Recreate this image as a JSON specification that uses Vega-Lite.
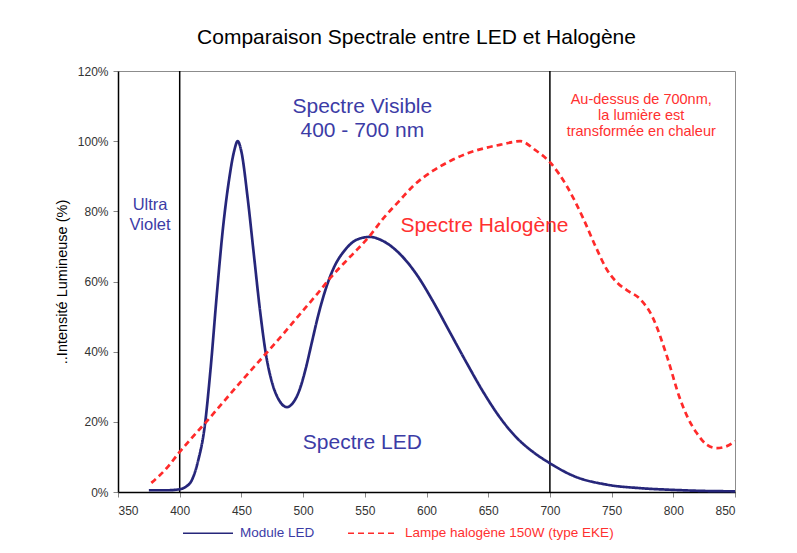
{
  "$schema": "https://vega.github.io/schema/vega-lite/v6.json",
  "width": 617,
  "height": 421,
  "autosize": "none",
  "padding": {"left": 118, "top": 71, "right": 62, "bottom": 61},
  "background": "white",
  "config": {
    "font": "Liberation Sans",
    "view": {"stroke": "#8c8c8c", "strokeWidth": 1}
  },
  "title": {
    "text": "Comparaison Spectrale entre LED et Halogène",
    "fontSize": 21,
    "fontWeight": "normal",
    "font": "Liberation Sans",
    "color": "#000000",
    "anchor": "middle",
    "dx": -10,
    "offset": 17
  },
  "datasets": {
    "spectra": [
      {"series": "Module LED", "nm": 375, "pct": 0.5},
      {"series": "Module LED", "nm": 390, "pct": 0.5},
      {"series": "Module LED", "nm": 400, "pct": 0.8},
      {"series": "Module LED", "nm": 405, "pct": 1.5},
      {"series": "Module LED", "nm": 410, "pct": 3.5},
      {"series": "Module LED", "nm": 415, "pct": 9},
      {"series": "Module LED", "nm": 420, "pct": 18},
      {"series": "Module LED", "nm": 425, "pct": 35},
      {"series": "Module LED", "nm": 430, "pct": 56},
      {"series": "Module LED", "nm": 435, "pct": 75},
      {"series": "Module LED", "nm": 440, "pct": 89},
      {"series": "Module LED", "nm": 444, "pct": 97},
      {"series": "Module LED", "nm": 447, "pct": 100},
      {"series": "Module LED", "nm": 450, "pct": 97},
      {"series": "Module LED", "nm": 455, "pct": 84},
      {"series": "Module LED", "nm": 460, "pct": 68},
      {"series": "Module LED", "nm": 465, "pct": 52},
      {"series": "Module LED", "nm": 470, "pct": 39},
      {"series": "Module LED", "nm": 475, "pct": 31},
      {"series": "Module LED", "nm": 480, "pct": 26.5},
      {"series": "Module LED", "nm": 487, "pct": 24.2},
      {"series": "Module LED", "nm": 492, "pct": 25.5},
      {"series": "Module LED", "nm": 497, "pct": 29},
      {"series": "Module LED", "nm": 502, "pct": 35},
      {"series": "Module LED", "nm": 507, "pct": 42.5},
      {"series": "Module LED", "nm": 512, "pct": 50},
      {"series": "Module LED", "nm": 518, "pct": 57.5},
      {"series": "Module LED", "nm": 525, "pct": 64},
      {"series": "Module LED", "nm": 534, "pct": 69},
      {"series": "Module LED", "nm": 544, "pct": 72},
      {"series": "Module LED", "nm": 554, "pct": 72.7},
      {"series": "Module LED", "nm": 565, "pct": 71.5},
      {"series": "Module LED", "nm": 578, "pct": 68},
      {"series": "Module LED", "nm": 592, "pct": 62},
      {"series": "Module LED", "nm": 605, "pct": 54.5},
      {"series": "Module LED", "nm": 619, "pct": 45.5},
      {"series": "Module LED", "nm": 633, "pct": 36.5},
      {"series": "Module LED", "nm": 646, "pct": 28.5},
      {"series": "Module LED", "nm": 660, "pct": 21},
      {"series": "Module LED", "nm": 673, "pct": 15.5},
      {"series": "Module LED", "nm": 686, "pct": 11.5},
      {"series": "Module LED", "nm": 700, "pct": 8.2},
      {"series": "Module LED", "nm": 719, "pct": 4.6},
      {"series": "Module LED", "nm": 746, "pct": 2.1},
      {"series": "Module LED", "nm": 773, "pct": 1.1},
      {"series": "Module LED", "nm": 800, "pct": 0.6},
      {"series": "Module LED", "nm": 825, "pct": 0.3},
      {"series": "Module LED", "nm": 850, "pct": 0.2},
      {"series": "Lampe halogène 150W (type EKE)", "nm": 377, "pct": 2.6},
      {"series": "Lampe halogène 150W (type EKE)", "nm": 390, "pct": 7},
      {"series": "Lampe halogène 150W (type EKE)", "nm": 399, "pct": 11},
      {"series": "Lampe halogène 150W (type EKE)", "nm": 410, "pct": 15.5},
      {"series": "Lampe halogène 150W (type EKE)", "nm": 421, "pct": 19.8},
      {"series": "Lampe halogène 150W (type EKE)", "nm": 435, "pct": 25.5},
      {"series": "Lampe halogène 150W (type EKE)", "nm": 450, "pct": 31.6},
      {"series": "Lampe halogène 150W (type EKE)", "nm": 470, "pct": 39.5},
      {"series": "Lampe halogène 150W (type EKE)", "nm": 485, "pct": 45.5},
      {"series": "Lampe halogène 150W (type EKE)", "nm": 497, "pct": 50.5},
      {"series": "Lampe halogène 150W (type EKE)", "nm": 512, "pct": 56.7},
      {"series": "Lampe halogène 150W (type EKE)", "nm": 522, "pct": 61},
      {"series": "Lampe halogène 150W (type EKE)", "nm": 538, "pct": 67},
      {"series": "Lampe halogène 150W (type EKE)", "nm": 554, "pct": 73},
      {"series": "Lampe halogène 150W (type EKE)", "nm": 565, "pct": 78},
      {"series": "Lampe halogène 150W (type EKE)", "nm": 578, "pct": 83},
      {"series": "Lampe halogène 150W (type EKE)", "nm": 590, "pct": 87.5},
      {"series": "Lampe halogène 150W (type EKE)", "nm": 605, "pct": 91.5},
      {"series": "Lampe halogène 150W (type EKE)", "nm": 620, "pct": 94.5},
      {"series": "Lampe halogène 150W (type EKE)", "nm": 633, "pct": 96.5},
      {"series": "Lampe halogène 150W (type EKE)", "nm": 647, "pct": 98},
      {"series": "Lampe halogène 150W (type EKE)", "nm": 660, "pct": 99},
      {"series": "Lampe halogène 150W (type EKE)", "nm": 676, "pct": 100},
      {"series": "Lampe halogène 150W (type EKE)", "nm": 688, "pct": 97.5},
      {"series": "Lampe halogène 150W (type EKE)", "nm": 700, "pct": 94},
      {"series": "Lampe halogène 150W (type EKE)", "nm": 714, "pct": 87},
      {"series": "Lampe halogène 150W (type EKE)", "nm": 727, "pct": 78},
      {"series": "Lampe halogène 150W (type EKE)", "nm": 737, "pct": 70},
      {"series": "Lampe halogène 150W (type EKE)", "nm": 746, "pct": 63.5},
      {"series": "Lampe halogène 150W (type EKE)", "nm": 755, "pct": 59.5},
      {"series": "Lampe halogène 150W (type EKE)", "nm": 762, "pct": 57.6},
      {"series": "Lampe halogène 150W (type EKE)", "nm": 773, "pct": 55},
      {"series": "Lampe halogène 150W (type EKE)", "nm": 783, "pct": 50},
      {"series": "Lampe halogène 150W (type EKE)", "nm": 795, "pct": 38.5},
      {"series": "Lampe halogène 150W (type EKE)", "nm": 805, "pct": 27},
      {"series": "Lampe halogène 150W (type EKE)", "nm": 812, "pct": 21},
      {"series": "Lampe halogène 150W (type EKE)", "nm": 819, "pct": 16.8},
      {"series": "Lampe halogène 150W (type EKE)", "nm": 827, "pct": 13.5},
      {"series": "Lampe halogène 150W (type EKE)", "nm": 835, "pct": 12.5},
      {"series": "Lampe halogène 150W (type EKE)", "nm": 843, "pct": 13},
      {"series": "Lampe halogène 150W (type EKE)", "nm": 850, "pct": 14.5}
    ],
    "bounds": [{"nm": 400}, {"nm": 700}],
    "blueBig": [
      {"label": "Spectre Visible", "nm": 548, "pct": 109.7},
      {"label": "400 - 700 nm", "nm": 548, "pct": 102.9},
      {"label": "Spectre LED", "nm": 548, "pct": 14}
    ],
    "uv": [
      {"label": "Ultra", "nm": 376, "pct": 81.8},
      {"label": "Violet", "nm": 376, "pct": 76.1}
    ],
    "redBig": [
      {"label": "Spectre Halogène", "nm": 647, "pct": 75.8}
    ],
    "redSmall": [
      {"label": "Au-dessus de 700nm,", "nm": 774, "pct": 111.7},
      {"label": "la lumière est", "nm": 774, "pct": 107.2},
      {"label": "transformée en chaleur", "nm": 774, "pct": 102.6}
    ]
  },
  "encoding": {
    "x": {
      "field": "nm",
      "type": "quantitative",
      "scale": {"domain": [350, 850], "nice": false, "zero": false},
      "axis": {
        "title": null,
        "values": [350, 400, 450, 500, 550, 600, 650, 700, 750, 800, 850],
        "grid": false,
        "domainColor": "#000000",
        "domainWidth": 1.5,
        "tickColor": "#888888",
        "tickSize": 5,
        "labelFontSize": 12,
        "labelColor": "#333333",
        "labelPadding": 8
      }
    },
    "y": {
      "field": "pct",
      "type": "quantitative",
      "scale": {"domain": [0, 120], "nice": false},
      "axis": {
        "title": "..Intensité Lumineuse (%)",
        "titleFontSize": 14.5,
        "titleFontWeight": "normal",
        "titleColor": "#000000",
        "titlePadding": 8,
        "values": [0, 20, 40, 60, 80, 100, 120],
        "labelExpr": "datum.value + '%'",
        "grid": false,
        "domainColor": "#000000",
        "domainWidth": 1.5,
        "tickColor": "#888888",
        "tickSize": 5,
        "labelFontSize": 12,
        "labelColor": "#333333",
        "labelPadding": 5
      }
    }
  },
  "layer": [
    {
      "data": {"name": "bounds"},
      "mark": {"type": "rule", "color": "#000000", "strokeWidth": 1.5},
      "encoding": {"x": {"field": "nm", "type": "quantitative"}, "y": null}
    },
    {
      "data": {"name": "spectra"},
      "mark": {"type": "line", "interpolate": "monotone", "strokeWidth": 2.7},
      "encoding": {
        "color": {
          "field": "series",
          "type": "nominal",
          "scale": {
            "domain": ["Module LED", "Lampe halogène 150W (type EKE)"],
            "range": ["#26267a", "#ff2a2a"]
          },
          "legend": {
            "orient": "none",
            "legendX": 64,
            "legendY": 436,
            "direction": "horizontal",
            "title": null,
            "symbolType": "stroke",
            "symbolSize": 2500,
            "symbolStrokeWidth": 1.5,
            "labelFontSize": 13.5,
            "labelFont": "Liberation Sans",
            "labelOffset": 6,
            "labelLimit": 400,
            "columnPadding": 30,
            "encode": {
              "labels": {
                "update": {
                  "fill": {"signal": "datum.value == 'Module LED' ? '#3c3ca6' : '#ff3030'"}
                }
              }
            }
          }
        },
        "strokeDash": {
          "field": "series",
          "type": "nominal",
          "scale": {
            "domain": ["Module LED", "Lampe halogène 150W (type EKE)"],
            "range": [[1, 0], [6, 4]]
          },
          "legend": null
        },
        "detail": {"field": "series"}
      }
    },
    {
      "data": {"name": "blueBig"},
      "mark": {"type": "text", "fontSize": 21, "color": "#3c3ca6", "align": "center", "baseline": "middle"},
      "encoding": {"text": {"field": "label"}}
    },
    {
      "data": {"name": "uv"},
      "mark": {"type": "text", "fontSize": 16.5, "color": "#3c3ca6", "align": "center", "baseline": "middle"},
      "encoding": {"text": {"field": "label"}}
    },
    {
      "data": {"name": "redBig"},
      "mark": {"type": "text", "fontSize": 21, "color": "#ff3030", "align": "center", "baseline": "middle"},
      "encoding": {"text": {"field": "label"}}
    },
    {
      "data": {"name": "redSmall"},
      "mark": {"type": "text", "fontSize": 14.5, "color": "#ff3030", "align": "center", "baseline": "middle"},
      "encoding": {"text": {"field": "label"}}
    }
  ]
}
